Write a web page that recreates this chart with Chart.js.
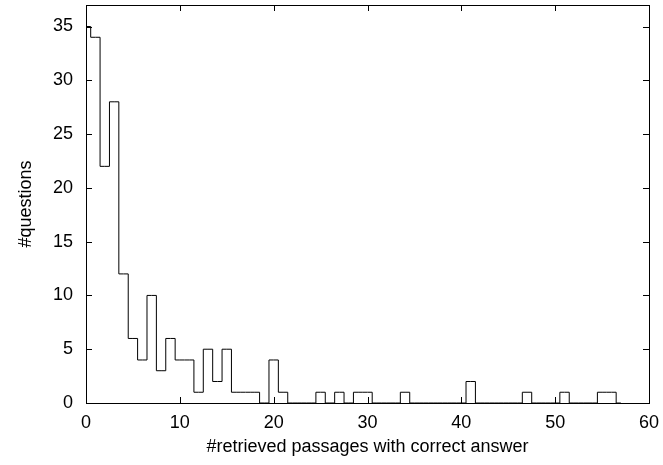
<!DOCTYPE html>
<html lang="en">
<head>
    <meta charset="UTF-8">
    <title>#questions by #retrieved passages</title>
    <script src="https://cdn.jsdelivr.net/npm/chart.js"></script>
    <style>
        html, body { margin: 0; padding: 0; background: #fff; }
        #wrap { width: 663px; height: 465px; }
    </style>
</head>
<body>

    <div id="wrap"><canvas id="histChart"></canvas></div>

    <script>
        // number of retrieved passages containing the correct answer (0..57)
        const passages = [
            0, 1, 2, 3, 4, 5, 6, 7, 8, 9,
            10, 11, 12, 13, 14, 15, 16, 17, 18, 19,
            20, 21, 22, 23, 24, 25, 26, 27, 28, 29,
            30, 31, 32, 33, 34, 35, 36, 37, 38, 39,
            40, 41, 42, 43, 44, 45, 46, 47, 48, 49,
            50, 51, 52, 53, 54, 55, 56, 57
        ];
        // #questions for each value above
        const questions = [
            35, 34, 22, 28, 12, 6, 4, 10, 3, 6,
            4, 4, 1, 5, 2, 5, 1, 1, 1, 0,
            4, 1, 0, 0, 0, 1, 0, 1, 0, 1,
            1, 0, 0, 0, 1, 0, 0, 0, 0, 0,
            0, 2, 0, 0, 0, 0, 0, 1, 0, 0,
            0, 1, 0, 0, 0, 1, 1, 0
        ];
        const xTicks = [0, 10, 20, 30, 40, 50, 60];
        const yTicks = [0, 5, 10, 15, 20, 25, 30, 35];

        const font = { family: "'Liberation Sans', Arial, sans-serif", size: 18 };

        // gnuplot style frame with inward ticks on all four sides
        const framePlugin = {
            id: "frame",
            afterDatasetsDraw(chart) {
                const { ctx, chartArea: a, scales } = chart;
                const len = 6;
                ctx.save();
                ctx.strokeStyle = "#000";
                ctx.lineWidth = 1;
                ctx.beginPath();
                scales.x.ticks.forEach(t => {
                    const px = Math.round(scales.x.getPixelForValue(t.value)) + 0.5;
                    ctx.moveTo(px, a.bottom); ctx.lineTo(px, a.bottom - len);
                    ctx.moveTo(px, a.top); ctx.lineTo(px, a.top + len);
                });
                scales.y.ticks.forEach(t => {
                    const py = Math.round(scales.y.getPixelForValue(t.value)) + 0.5;
                    ctx.moveTo(a.left, py); ctx.lineTo(a.left + len, py);
                    ctx.moveTo(a.right, py); ctx.lineTo(a.right - len, py);
                });
                ctx.stroke();
                ctx.strokeRect(Math.round(a.left) + 0.5, Math.round(a.top) + 0.5,
                    Math.round(a.right - a.left), Math.round(a.bottom - a.top));
                ctx.restore();
            }
        };

        const ctx = document.getElementById("histChart").getContext("2d");
        new Chart(ctx, {
            type: "line",
            data: {
                datasets: [{
                    data: passages.map((p, i) => ({ x: p, y: questions[i] })),
                    stepped: "middle",
                    borderColor: "#000",
                    borderWidth: 1,
                    pointRadius: 0,
                    fill: false
                }]
            },
            options: {
                responsive: true,
                maintainAspectRatio: false,
                animation: false,
                layout: { padding: { top: 5, right: 14, left: 0, bottom: 0 } },
                plugins: { legend: { display: false }, tooltip: { enabled: false } },
                scales: {
                    x: {
                        type: "linear",
                        min: 0,
                        max: 60,
                        grid: { display: false, drawTicks: false },
                        border: { display: false },
                        afterBuildTicks: s => { s.ticks = xTicks.map(v => ({ value: v })); },
                        afterFit: s => { s.height = 62; s.paddingLeft = 0; s.paddingRight = 0; },
                        ticks: { font: font, color: "#000", padding: 9, maxRotation: 0 },
                        title: {
                            display: true,
                            text: "#retrieved passages with correct answer",
                            font: font,
                            color: "#000",
                            padding: { top: 0, bottom: 7 }
                        }
                    },
                    y: {
                        min: 0,
                        max: 37,
                        grid: { display: false, drawTicks: false },
                        border: { display: false },
                        afterBuildTicks: s => { s.ticks = yTicks.map(v => ({ value: v })); },
                        afterFit: s => { s.width = 86; s.paddingTop = 0; s.paddingBottom = 0; },
                        ticks: { font: font, color: "#000", padding: 13 },
                        title: {
                            display: true,
                            text: "#questions",
                            font: font,
                            color: "#000",
                            padding: { top: 15, bottom: 0 }
                        }
                    }
                }
            },
            plugins: [framePlugin]
        });
    </script>

</body>
</html>
